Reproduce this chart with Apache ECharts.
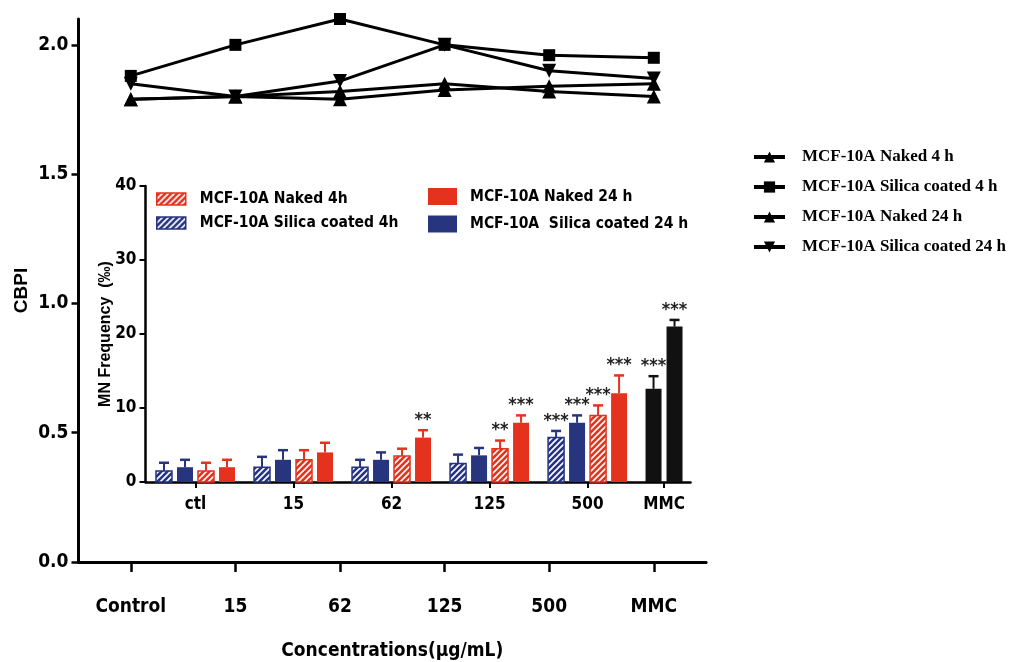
<!DOCTYPE html>
<html>
<head>
<meta charset="utf-8">
<title>CBPI and MN frequency</title>
<script src="https://cdn.jsdelivr.net/npm/echarts@6/dist/echarts.min.js"></script>
<style>
  html, body { margin: 0; padding: 0; background: #fff; }
  #main { width: 1009px; height: 662px; }
</style>
</head>
<body>
<div id="main"></div>
<script>
// main chart : CBPI per concentration
var concentrations = ['Control', '15', '62', '125', '500', 'MMC'];
var cbpiNaked4 = [1.79, 1.80, 1.79, 1.825, 1.84, 1.85];
var cbpiSilica4 = [1.88, 2.00, 2.10, 2.00, 1.96, 1.95];
var cbpiNaked24 = [1.79, 1.80, 1.82, 1.85, 1.82, 1.80];
var cbpiSilica24 = [1.85, 1.80, 1.86, 2.00, 1.90, 1.87];
var cbpiTicks = [0, 0.5, 1.0, 1.5, 2.0];

// inset : MN frequency (per mille)
var mnGroups = ['ctl', '15', '62', '125', '500', 'MMC'];
var mnSilica4 = [1.5, 2.0, 2.0, 2.5, 6.0];
var mnSilica4Err = [1.1, 1.4, 1.0, 1.2, 0.9];
var mnSilica4Sig = ['', '', '', '', '***'];
var mnSilica24 = [2.0, 3.0, 3.0, 3.6, 8.0];
var mnSilica24Err = [1.0, 1.3, 1.0, 1.0, 1.0];
var mnSilica24Sig = ['', '', '', '', '***'];
var mnNaked4 = [1.5, 3.0, 3.5, 4.5, 9.0];
var mnNaked4Err = [1.1, 1.3, 1.0, 1.1, 1.35];
var mnNaked4Sig = ['', '', '', '**', '***'];
var mnNaked24 = [2.0, 4.0, 6.0, 8.0, 12.0];
var mnNaked24Err = [1.0, 1.3, 1.0, 1.0, 2.4];
var mnNaked24Sig = ['', '', '**', '***', '***'];
var mnMMC = [12.6, 21.0];
var mnMMCErr = [1.7, 0.9];
var mnMMCSig = ['***', '***'];

// layout only: the MMC group sits closer to 500 in the figure
var groupAt = [0, 1, 2, 3, 4, 4.78];

var RED = '#e5321f';
var BLUE = '#27357f';
var SANS = '"Liberation Sans Narrow", "Arial Narrow", "DejaVu Sans Condensed", sans-serif';
var SERIF = '"Liberation Serif", "Times New Roman", serif';

var chart = echarts.init(document.getElementById('main'));

// diagonal white stripes
function hatch(color) {
  var c = document.createElement('canvas');
  c.width = 6; c.height = 6;
  var ctx = c.getContext('2d');
  ctx.fillStyle = color;
  ctx.fillRect(0, 0, 6, 6);
  ctx.strokeStyle = '#fff';
  ctx.lineWidth = 1.6;
  ctx.beginPath();
  ctx.moveTo(0, 6); ctx.lineTo(6, 0);
  ctx.moveTo(-3, 3); ctx.lineTo(3, -3);
  ctx.moveTo(3, 9); ctx.lineTo(9, 3);
  ctx.stroke();
  return { image: c, repeat: 'repeat' };
}

// one bar series of the inset, drawn with error bar and stars
// groups = group of each value, slots = place inside the group (0..3)
function barSeries(name, values, errs, sigs, groups, slots, color, hatched) {
  var fill = hatched ? hatch(color) : color;
  var data = values.map(function (v, i) { return [groupAt[groups[i]], v, errs[i]]; });
  return {
    type: 'custom',
    name: name,
    xAxisIndex: 1,
    yAxisIndex: 1,
    itemStyle: { color: fill, borderColor: color, borderWidth: hatched ? 1.5 : 0 },
    data: data,
    renderItem: function (params, api) {
      var i = params.dataIndex;
      var slot = Array.isArray(slots) ? slots[i] : slots;
      var base = api.coord([api.value(0), 0]);
      var top = api.coord([api.value(0), api.value(1)]);
      var cap = api.coord([api.value(0), api.value(1) + api.value(2)]);
      var cx = base[0] + (slot - 1.5) * 21;
      var w = 16;
      return {
        type: 'group',
        children: [
          { type: 'line', shape: { x1: cx, y1: top[1], x2: cx, y2: cap[1] }, style: { stroke: color, lineWidth: 2 } },
          { type: 'line', shape: { x1: cx - 5, y1: cap[1], x2: cx + 5, y2: cap[1] }, style: { stroke: color, lineWidth: 2.5 } },
          { type: 'rect', shape: { x: cx - w / 2, y: top[1], width: w, height: base[1] - top[1] },
            style: { fill: fill, stroke: color, lineWidth: hatched ? 1.5 : 0 } },
          { type: 'text', x: cx, y: cap[1] - 1,
            style: { text: sigs[i], align: 'center', verticalAlign: 'bottom', font: 'bold 18px ' + SANS, fill: '#222' } }
        ]
      };
    }
  };
}

function lineSeries(name, values, symbol, rotate) {
  return {
    type: 'line',
    name: name,
    data: values,
    symbol: symbol,
    symbolSize: symbol === 'rect' ? 12 : 14,
    symbolRotate: rotate || 0,
    color: '#000',
    lineStyle: { color: '#000', width: 3 },
    itemStyle: { color: '#000' },
    z: 3
  };
}

var nbsp = '\u00a0';
var fiveGroups = [0, 1, 2, 3, 4];

var option = {
  animation: false,
  backgroundColor: '#fff',
  grid: [
    { left: 78.5, top: 19, width: 627.6, height: 543, outerBoundsMode: 'none', containLabel: false },
    { left: 145.5, top: 186, width: 545, height: 296, outerBoundsMode: 'none', containLabel: false }
  ],
  xAxis: [
    {
      type: 'category',
      data: concentrations,
      gridIndex: 0,
      axisLine: { lineStyle: { color: '#000', width: 3 } },
      axisTick: { show: true, alignWithLabel: true, length: 10, lineStyle: { color: '#000', width: 2.5 } },
      axisLabel: { margin: 36, color: '#000', fontWeight: 'bold', fontSize: 19, fontFamily: SANS },
      name: 'Concentrations(μg/mL)',
      nameLocation: 'middle',
      nameGap: 80,
      nameMoveOverlap: false,
      nameTextStyle: { color: '#000', fontWeight: 'bold', fontSize: 19, fontFamily: SANS }
    },
    {
      type: 'value',
      gridIndex: 1,
      min: -0.51,
      max: 5.05,
      splitLine: { show: false },
      axisLine: { onZero: false, lineStyle: { color: '#000', width: 2.5 } },
      axisTick: { show: true, customValues: groupAt, length: 6, lineStyle: { color: '#000', width: 2 } },
      axisLabel: {
        customValues: groupAt,
        formatter: function (v) {
          var best = 0;
          groupAt.forEach(function (g, k) { if (Math.abs(g - v) < Math.abs(groupAt[best] - v)) best = k; });
          return mnGroups[best];
        },
        margin: 14, color: '#000', fontWeight: 'bold', fontSize: 17, fontFamily: SANS
      }
    }
  ],
  yAxis: [
    {
      type: 'value',
      gridIndex: 0,
      min: 0,
      max: 2.1,
      splitLine: { show: false },
      axisLine: { show: true, onZero: false, lineStyle: { color: '#000', width: 3 } },
      axisTick: { show: true, customValues: cbpiTicks, length: 7, lineStyle: { color: '#000', width: 2.5 } },
      axisLabel: {
        customValues: cbpiTicks,
        formatter: function (v) { return v.toFixed(1); },
        margin: 10, color: '#000', fontWeight: 'bold', fontSize: 19, fontFamily: SANS
      },
      name: 'CBPI',
      nameLocation: 'middle',
      nameGap: 47,
      nameMoveOverlap: false,
      nameTextStyle: { color: '#000', fontWeight: 'bold', fontSize: 19, fontFamily: 'Liberation Sans, Arial, sans-serif' }
    },
    {
      type: 'value',
      gridIndex: 1,
      min: 0,
      max: 40,
      interval: 10,
      splitLine: { show: false },
      axisLine: { show: true, onZero: false, lineStyle: { color: '#000', width: 2.5 } },
      axisTick: { show: true, length: 6, lineStyle: { color: '#000', width: 2 } },
      axisLabel: { margin: 9, color: '#000', fontWeight: 'bold', fontSize: 17, fontFamily: SANS },
      name: 'MN Frequency  (‰)',
      nameLocation: 'middle',
      nameGap: 32,
      nameMoveOverlap: false,
      nameTextStyle: { color: '#000', fontWeight: 'bold', fontSize: 16, fontFamily: 'Liberation Sans, Arial, sans-serif' }
    }
  ],
  legend: [
    {
      orient: 'vertical',
      left: 752,
      top: 148.5,
      padding: 0,
      itemWidth: 31,
      itemHeight: 14,
      itemGap: 13,
      lineStyle: { width: 4 },
      textStyle: { color: '#000', fontWeight: 'bold', fontSize: 17, lineHeight: 17, fontFamily: SERIF, padding: [0, 0, 0, 12] },
      data: ['MCF-10A Naked 4 h', 'MCF-10A Silica coated 4 h', 'MCF-10A Naked 24 h', 'MCF-10A Silica coated 24 h']
    },
    {
      orient: 'vertical',
      left: 156,
      top: 191,
      padding: 0,
      itemWidth: 29,
      itemHeight: 12,
      itemGap: 8,
      icon: 'rect',
      textStyle: { color: '#000', fontWeight: 'bold', fontSize: 15.5, lineHeight: 16, fontFamily: SANS, padding: [0, 0, 0, 9] },
      data: [
        { name: 'MCF-10A Naked 4h', itemStyle: { color: hatch(RED), borderColor: RED, borderWidth: 1.5 } },
        { name: 'MCF-10A Silica coated 4h', itemStyle: { color: hatch(BLUE), borderColor: BLUE, borderWidth: 1.5 } }
      ]
    },
    {
      orient: 'vertical',
      left: 428,
      top: 188,
      padding: 0,
      itemWidth: 29,
      itemHeight: 17,
      itemGap: 10.5,
      icon: 'rect',
      textStyle: { color: '#000', fontWeight: 'bold', fontSize: 15.5, lineHeight: 17, fontFamily: SANS, padding: [0, 0, 0, 8] },
      data: [
        { name: 'MCF-10A Naked 24' + nbsp + 'h', itemStyle: { color: RED } },
        { name: 'MCF-10A  Silica coated 24 h', itemStyle: { color: BLUE } }
      ]
    }
  ],
  series: [
    lineSeries('MCF-10A Naked 4 h', cbpiNaked4, 'triangle'),
    lineSeries('MCF-10A Silica coated 4 h', cbpiSilica4, 'rect'),
    lineSeries('MCF-10A Naked 24 h', cbpiNaked24, 'triangle'),
    lineSeries('MCF-10A Silica coated 24 h', cbpiSilica24, 'triangle', 180),
    barSeries('MCF-10A Silica coated 4h', mnSilica4, mnSilica4Err, mnSilica4Sig, fiveGroups, 0, BLUE, true),
    barSeries('MCF-10A  Silica coated 24 h', mnSilica24, mnSilica24Err, mnSilica24Sig, fiveGroups, 1, BLUE, false),
    barSeries('MCF-10A Naked 4h', mnNaked4, mnNaked4Err, mnNaked4Sig, fiveGroups, 2, RED, true),
    barSeries('MCF-10A Naked 24' + nbsp + 'h', mnNaked24, mnNaked24Err, mnNaked24Sig, fiveGroups, 3, RED, false),
    barSeries('MMC', mnMMC, mnMMCErr, mnMMCSig, [5, 5], [1, 2], '#111', false)
  ]
};

chart.setOption(option);
</script>
</body>
</html>
